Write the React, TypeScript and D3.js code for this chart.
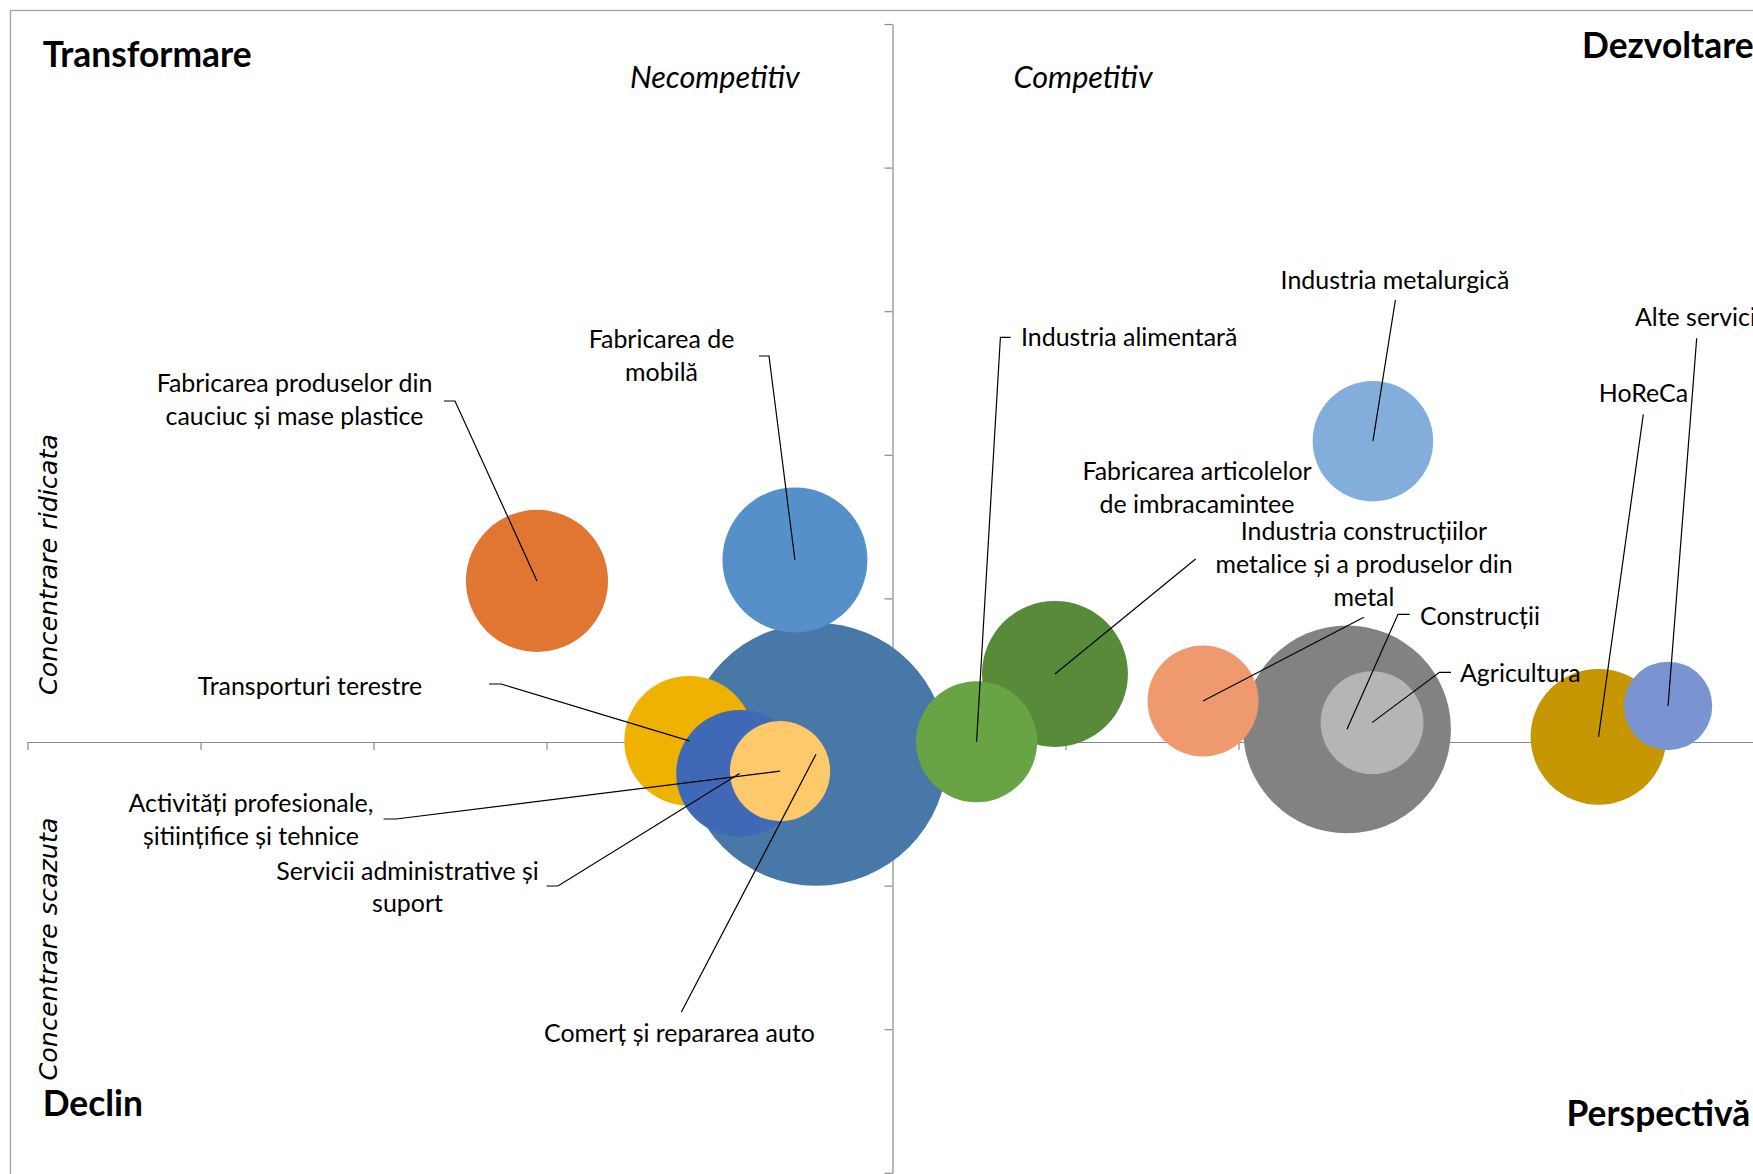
import React, { useEffect, useRef } from 'react';
import * as d3 from 'd3';

// sectoare (bubble chart: competitivitate x concentrare, marime = ocupare)
const sectoare = [
  'Fabricarea produselor din cauciuc și mase plastice',
  'Fabricarea de mobilă',
  'Transporturi terestre',
  'Servicii administrative și suport',
  'Activități profesionale, științifice și tehnice',
  'Comerț și repararea auto',
  'Industria alimentară',
  'Fabricarea articolelor de imbracamintee',
  'Industria construcțiilor metalice și a produselor din metal',
  'Construcții',
  'Agricultura',
  'Industria metalurgică',
  'HoReCa',
  'Alte servicii',
];
const competitivitate = [-2.055, -0.564, -1.175, -0.884, -0.65, -0.442, 0.486, 0.939, 1.795, 2.627, 2.772, 2.777, 4.081, 4.483];
const concentrare = [1.122, 1.268, 0.008, -0.219, -0.203, -0.085, 0.002, 0.474, 0.286, 0.088, 0.135, 2.095, 0.036, 0.251];
const marime = [29.2, 30.4, 24.4, 23.2, 14.5, 100, 21.2, 30.8, 17.8, 62.5, 15.3, 21.0, 26.7, 11.3];
const culori = ['#E07631', '#5591C8', '#EFB200', '#3F68B6', '#FEC96B', '#4878A7', '#68A443', '#578A39', '#EF9A6E', '#828282', '#B5B5B5', '#83AEDB', '#C79603', '#7A93D1'];
const etichete = [
  ['Fabricarea produselor din', 'cauciuc și mase plastice'],
  ['Fabricarea de', 'mobilă'],
  ['Transporturi terestre'],
  ['Servicii administrative și', 'suport'],
  ['Activități profesionale,', 'șitiințifice și tehnice'],
  ['Comerț și repararea auto'],
  ['Industria alimentară'],
  ['Fabricarea articolelor', 'de imbracamintee'],
  ['Industria construcțiilor', 'metalice și a produselor din', 'metal'],
  ['Construcții'],
  ['Agricultura'],
  ['Industria metalurgică'],
  ['HoReCa'],
  ['Alte servicii'],
];
const xTicks = d3.range(-5, 6);
const yTicks = d3.range(-3, 6);
const cadrane = ['Transformare', 'Dezvoltare', 'Declin', 'Perspectivă'];
const competitiv = ['Necompetitiv', 'Competitiv'];
const axaY = ['Concentrare ridicata', 'Concentrare scazuta'];

// label boxes + leader start points (pixels)
const labelPos = [
  { x: 294.5, y: 392, a: 'middle', lead: [[444, 401], [455, 401]] },
  { x: 661.5, y: 348, a: 'middle', lead: [[759, 356], [769, 356]] },
  { x: 310, y: 695, a: 'middle', lead: [[489, 684], [501, 684]] },
  { x: 407.5, y: 879.5, a: 'middle', lead: [[546.5, 886], [558, 886]] },
  { x: 251, y: 812, a: 'middle', lead: [[383.5, 819], [396, 819]] },
  { x: 679.5, y: 1042, a: 'middle', lead: [[681.4, 1012]] },
  { x: 1021, y: 346, a: 'start', lead: [[1010.7, 337.3], [1000.4, 337.3]] },
  { x: 1197, y: 480, a: 'middle', lead: [[1195.6, 559]] },
  { x: 1364, y: 540, a: 'middle', lead: [[1363.8, 617.3]] },
  { x: 1420, y: 625, a: 'start', lead: [[1409.7, 614.3], [1398, 614.3]] },
  { x: 1460, y: 682, a: 'start', lead: [[1451, 672.3], [1439.5, 672.3]] },
  { x: 1395, y: 288.5, a: 'middle', lead: [[1395.4, 300]] },
  { x: 1643.5, y: 402, a: 'middle', lead: [[1643.3, 414.3]] },
  { x: 1635, y: 326, a: 'start', lead: [[1696.7, 338.3]] },
];

const FONT = 'Lato, Carlito, Calibri, sans-serif';

const App = () => {
  const svgRef = useRef<SVGSVGElement>(null);

  useEffect(() => {
    const width = 1753;
    const height = 1174;
    const svg = d3.select(svgRef.current);
    svg.selectAll('*').remove();

    const fit = (family: string, weight: string, style: string, text: string, target: number) => {
      const t = svg.append('text')
        .attr('font-family', family).attr('font-weight', weight)
        .attr('font-style', style).attr('font-size', 100).text(text);
      const w = (t.node() as SVGTextElement).getComputedTextLength();
      t.remove();
      return 100 * target / w;
    };
    const fsLabel = fit(FONT, 'normal', 'normal', 'Comerț și repararea auto', 271);
    const fsBold = fit(FONT, 'bold', 'normal', 'Transformare', 209);
    const fsItal = fit(FONT, 'normal', 'italic', 'Competitiv', 139);
    const fsAxis = fit('DejaVu Sans', 'normal', 'italic', 'Concentrare ridicata', 261);

    const x = d3.scaleLinear().domain([-5, 5]).range([27.5, 1757.5]);
    const y = d3.scaleLinear().domain([-3, 5]).range([1172.8, 24]);
    const r = d3.scaleSqrt().domain([0, 100]).range([0, 131.5]);

    // chart border
    svg.append('rect')
      .attr('x', 10.5).attr('y', 10.5)
      .attr('width', width + 20).attr('height', height + 20)
      .attr('fill', 'none').attr('stroke', '#a0a0a0').attr('stroke-width', 1.3);

    // axes
    const gx = svg.append('g')
      .attr('transform', `translate(0,${y(0)})`)
      .call(d3.axisBottom(x).tickValues(xTicks).tickSize(8).tickSizeOuter(0).tickFormat(() => ''));
    const gy = svg.append('g')
      .attr('transform', `translate(${x(0)},0)`)
      .call(d3.axisLeft(y).tickValues(yTicks).tickSize(8).tickSizeOuter(0).tickFormat(() => ''));
    [gx, gy].forEach(g => g.selectAll('path,line').attr('stroke', '#8a8a8a').attr('stroke-width', 1.2));

    // bubbles, largest first
    const data = sectoare.map((s, i) => ({
      s, i, x: competitivitate[i], y: concentrare[i], v: marime[i], c: culori[i],
    }));
    svg.append('g')
      .selectAll('circle')
      .data([...data].sort((a, b) => b.v - a.v))
      .join('circle')
      .attr('cx', d => x(d.x))
      .attr('cy', d => y(d.y))
      .attr('r', d => r(d.v))
      .attr('fill', d => d.c);

    // leader lines
    const line = d3.line();
    svg.append('g')
      .selectAll('path')
      .data(data)
      .join('path')
      .attr('d', d => line([...labelPos[d.i].lead, [x(d.x), y(d.y)]] as [number, number][]))
      .attr('fill', 'none')
      .attr('stroke', '#000')
      .attr('stroke-width', 1.2);

    // data labels
    const lbl = svg.append('g')
      .selectAll('text')
      .data(data)
      .join('text')
      .attr('font-family', FONT)
      .attr('font-size', fsLabel)
      .attr('fill', '#000')
      .attr('text-anchor', d => labelPos[d.i].a)
      .attr('x', d => labelPos[d.i].x)
      .attr('y', d => labelPos[d.i].y);
    lbl.selectAll('tspan')
      .data(d => etichete[d.i].map((t, k) => ({ t, k, x: labelPos[d.i].x })))
      .join('tspan')
      .attr('x', d => d.x)
      .attr('dy', d => (d.k === 0 ? 0 : 32.8))
      .text(d => d.t);

    // quadrant titles
    const quadPos = [[42.7, 66.7], [1582, 58.3], [42.7, 1116], [1566.5, 1126]];
    svg.append('g')
      .selectAll('text')
      .data(cadrane)
      .join('text')
      .attr('x', (d, i) => quadPos[i][0])
      .attr('y', (d, i) => quadPos[i][1])
      .attr('font-family', FONT)
      .attr('font-weight', 'bold')
      .attr('font-size', fsBold)
      .text(d => d);

    const compPos = [[630, 88], [1013.6, 88]];
    svg.append('g')
      .selectAll('text')
      .data(competitiv)
      .join('text')
      .attr('x', (d, i) => compPos[i][0])
      .attr('y', (d, i) => compPos[i][1])
      .attr('font-family', FONT)
      .attr('font-style', 'italic')
      .attr('font-size', fsItal)
      .text(d => d);

    const axPos = [564.5, 949];
    svg.append('g')
      .selectAll('text')
      .data(axaY)
      .join('text')
      .attr('transform', (d, i) => `translate(57,${axPos[i]}) rotate(-90)`)
      .attr('text-anchor', 'middle')
      .attr('font-family', 'DejaVu Sans')
      .attr('font-style', 'italic')
      .attr('font-size', fsAxis)
      .attr('fill', '#000')
      .text(d => d);
  }, []);

  return (
    <svg
      ref={svgRef}
      width={1753}
      height={1174}
      style={{ position: 'absolute', left: 0, top: 0, display: 'block', background: '#fff' }}
    />
  );
};

export default App;
